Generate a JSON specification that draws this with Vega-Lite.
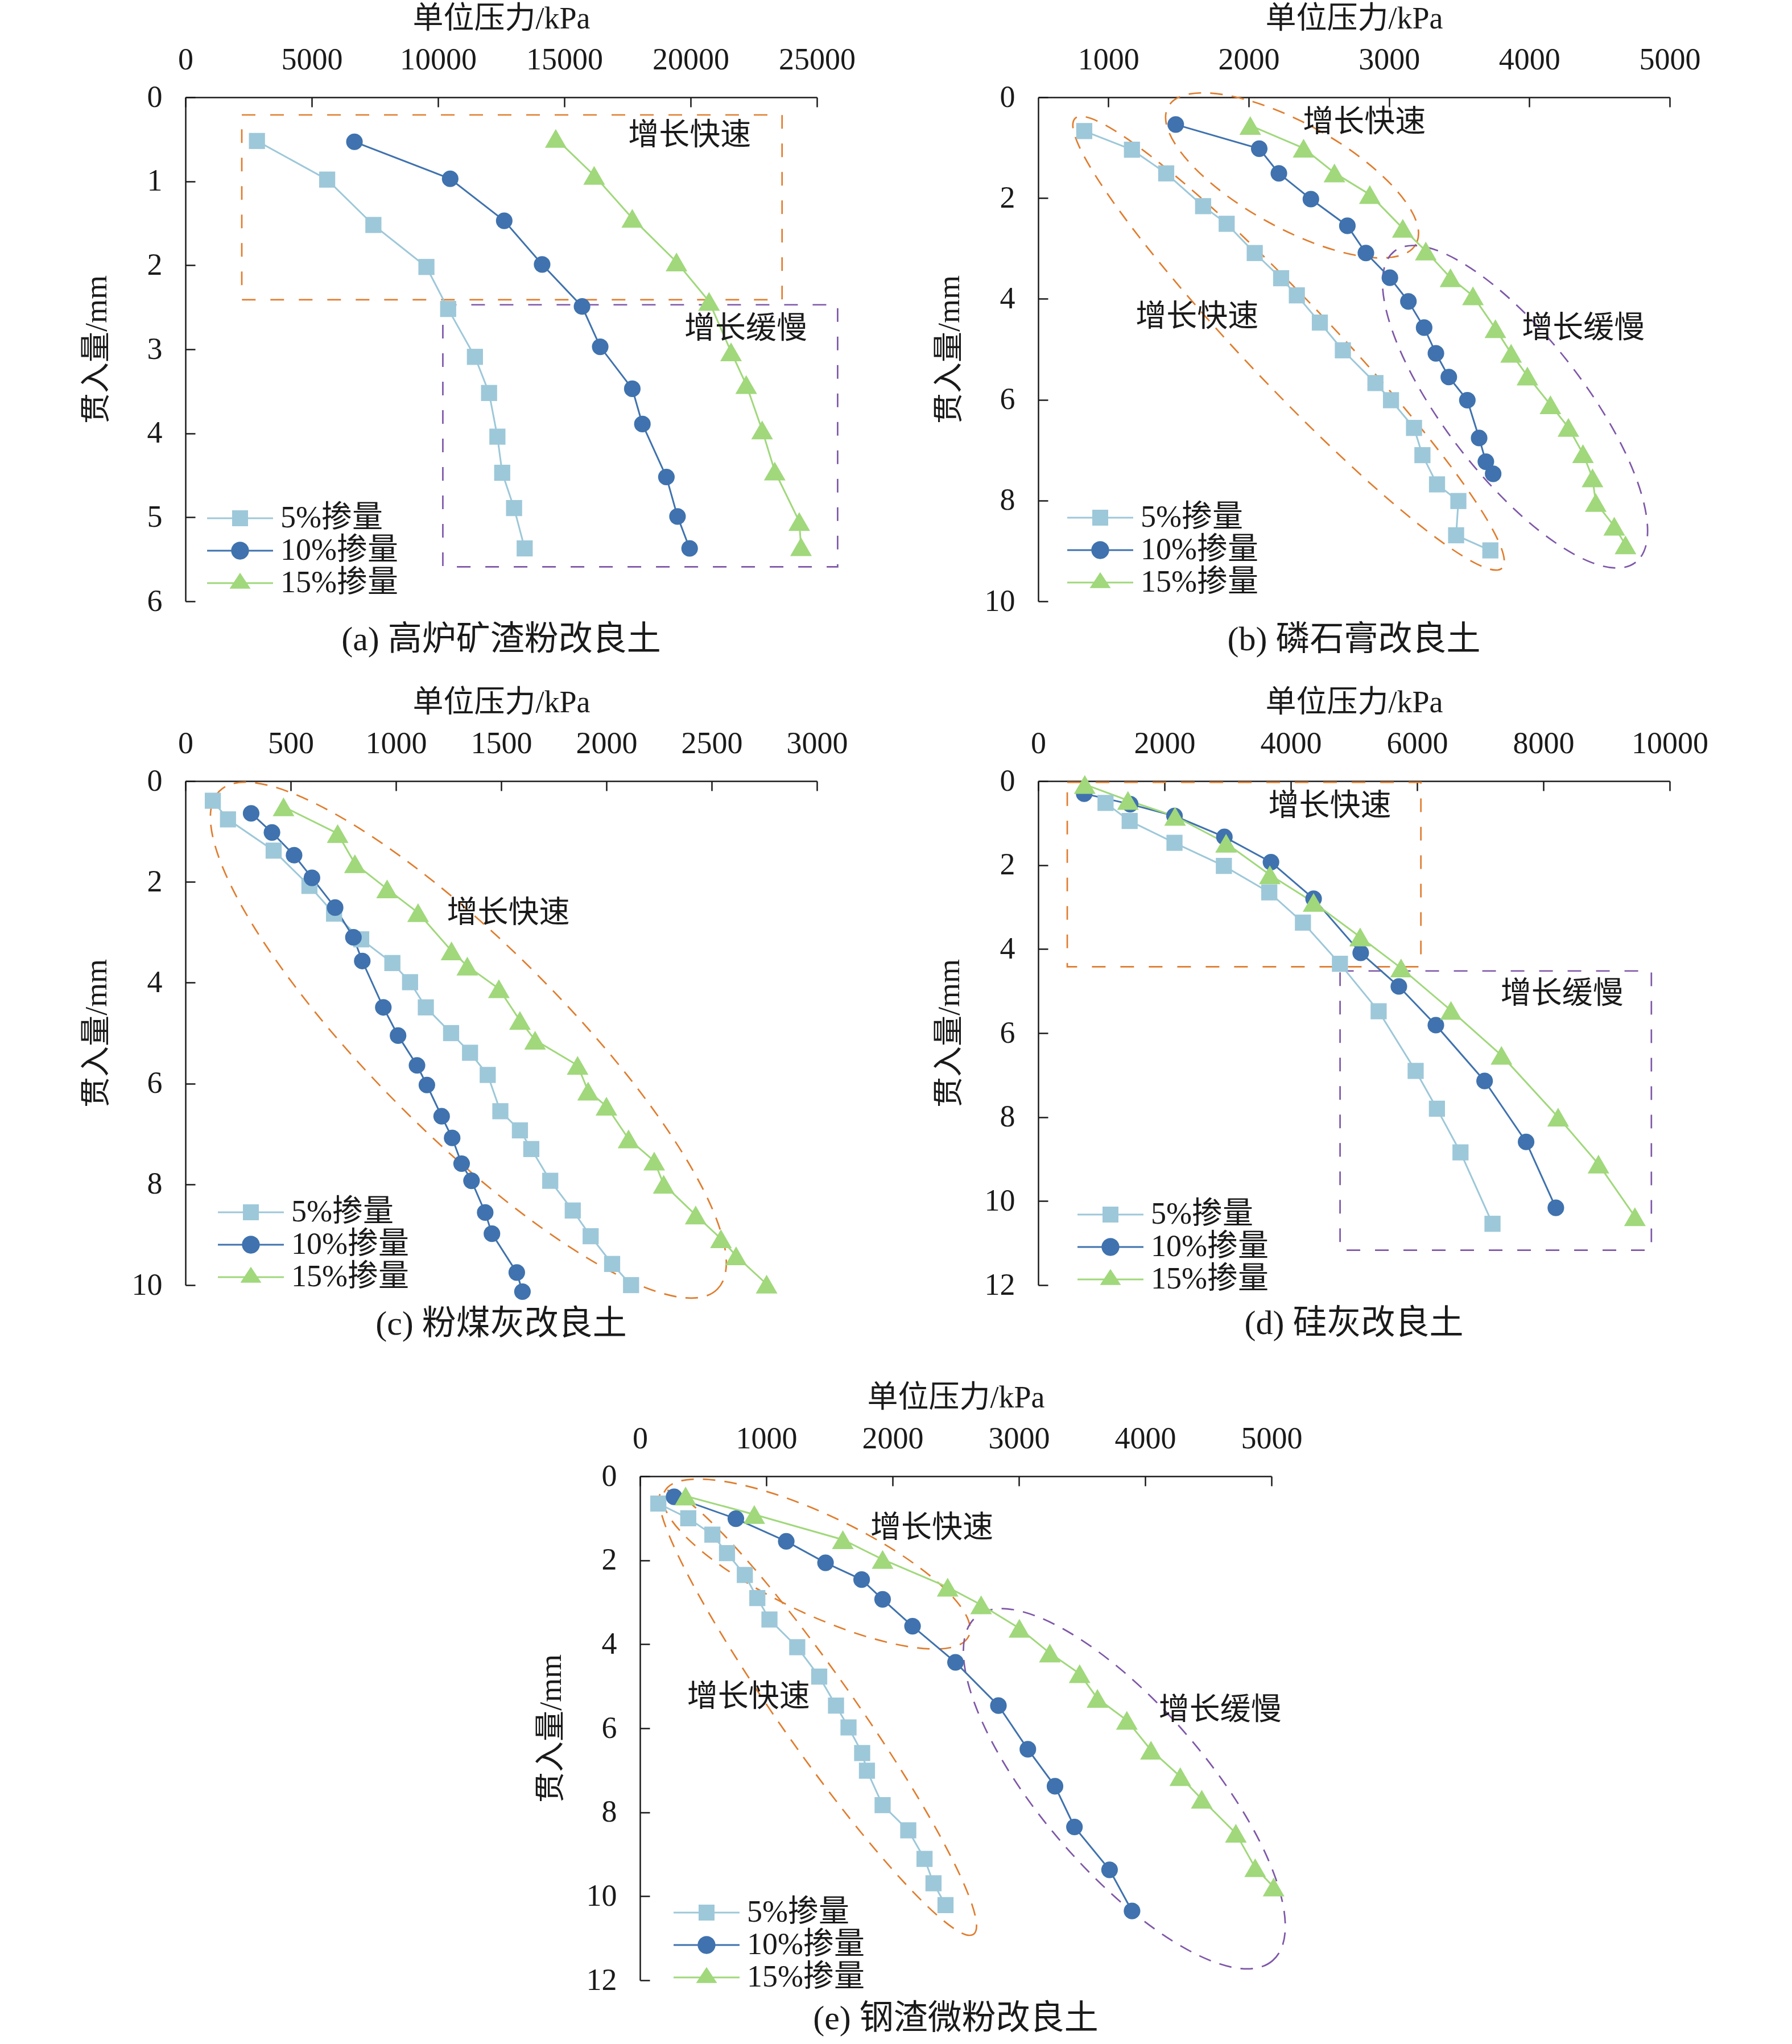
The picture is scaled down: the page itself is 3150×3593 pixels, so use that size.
{
  "$schema": "https://vega.github.io/schema/vega-lite/v6.json",
  "background": "white",
  "padding": {"left": 143, "top": 6, "right": 10, "bottom": 10},
  "config": {
    "view": {"stroke": null},
    "axis": {
      "domainColor": "#1a1a1a", "domainWidth": 2.5, "tickColor": "#1a1a1a", "tickWidth": 2.5, "tickSize": -17,
      "grid": false, "labelFont": "Liberation Serif", "labelFontSize": 54, "labelColor": "#1a1a1a",
      "titleFont": "Liberation Serif, Noto Sans CJK SC", "titleFontSize": 54, "titleFontWeight": "normal", "titleColor": "#1a1a1a",
      "labelFlush": false, "labelOverlap": false, "labelBound": false
    },
    "axisX": {"labelPadding": 56, "titleX": 555, "titleY": -138, "titleBaseline": "middle", "titleAngle": 0},
    "axisY": {"labelPadding": 58, "titleX": -156, "titleY": 443, "titleBaseline": "middle", "titleAngle": -90},
    "legend": {
      "orient": "none", "title": null, "padding": 0, "rowPadding": 3, "labelOffset": 44, "labelLimit": 600,
      "labelFont": "Liberation Serif, Noto Sans CJK SC", "labelFontSize": 54, "labelColor": "#1a1a1a",
      "symbolSize": 784, "symbolStrokeWidth": 0, "symbolOpacity": 1
    },
    "title": {"font": "Liberation Serif, Noto Sans CJK SC", "fontSize": 60, "fontWeight": "normal", "orient": "bottom", "anchor": "middle", "frame": "group", "offset": 12, "color": "#1a1a1a"},
    "text": {"font": "Liberation Serif, Noto Sans CJK SC", "fontSize": 54, "color": "#1a1a1a", "align": "center", "baseline": "middle"}
  },
  "datasets": {
    "a": [
      {"s": "5%掺量", "p": 2830, "d": 0.52}, {"s": "5%掺量", "p": 5610, "d": 0.98}, {"s": "5%掺量", "p": 7440, "d": 1.52}, {"s": "5%掺量", "p": 9540, "d": 2.02}, {"s": "5%掺量", "p": 10400, "d": 2.52}, {"s": "5%掺量", "p": 11460, "d": 3.09}, {"s": "5%掺量", "p": 12020, "d": 3.52}, {"s": "5%掺量", "p": 12350, "d": 4.04}, {"s": "5%掺量", "p": 12540, "d": 4.47}, {"s": "5%掺量", "p": 13010, "d": 4.89}, {"s": "5%掺量", "p": 13430, "d": 5.37},
      {"s": "10%掺量", "p": 6690, "d": 0.53}, {"s": "10%掺量", "p": 10480, "d": 0.97}, {"s": "10%掺量", "p": 12620, "d": 1.47}, {"s": "10%掺量", "p": 14120, "d": 1.99}, {"s": "10%掺量", "p": 15700, "d": 2.49}, {"s": "10%掺量", "p": 16420, "d": 2.97}, {"s": "10%掺量", "p": 17690, "d": 3.47}, {"s": "10%掺量", "p": 18090, "d": 3.89}, {"s": "10%掺量", "p": 19040, "d": 4.52}, {"s": "10%掺量", "p": 19480, "d": 4.99}, {"s": "10%掺量", "p": 19960, "d": 5.37},
      {"s": "15%掺量", "p": 14660, "d": 0.49}, {"s": "15%掺量", "p": 16180, "d": 0.93}, {"s": "15%掺量", "p": 17690, "d": 1.44}, {"s": "15%掺量", "p": 19440, "d": 1.96}, {"s": "15%掺量", "p": 20730, "d": 2.43}, {"s": "15%掺量", "p": 21600, "d": 3.03}, {"s": "15%掺量", "p": 22200, "d": 3.42}, {"s": "15%掺量", "p": 22830, "d": 3.96}, {"s": "15%掺量", "p": 23330, "d": 4.45}, {"s": "15%掺量", "p": 24300, "d": 5.05}, {"s": "15%掺量", "p": 24370, "d": 5.35}
    ],
    "b": [
      {"s": "5%掺量", "p": 828, "d": 0.67}, {"s": "5%掺量", "p": 1168, "d": 1.04}, {"s": "5%掺量", "p": 1412, "d": 1.51}, {"s": "5%掺量", "p": 1675, "d": 2.16}, {"s": "5%掺量", "p": 1843, "d": 2.51}, {"s": "5%掺量", "p": 2043, "d": 3.09}, {"s": "5%掺量", "p": 2231, "d": 3.59}, {"s": "5%掺量", "p": 2343, "d": 3.93}, {"s": "5%掺量", "p": 2507, "d": 4.47}, {"s": "5%掺量", "p": 2671, "d": 5.02}, {"s": "5%掺量", "p": 2903, "d": 5.67}, {"s": "5%掺量", "p": 3014, "d": 6.01}, {"s": "5%掺量", "p": 3178, "d": 6.56}, {"s": "5%掺量", "p": 3238, "d": 7.1}, {"s": "5%掺量", "p": 3342, "d": 7.68}, {"s": "5%掺量", "p": 3494, "d": 8.01}, {"s": "5%掺量", "p": 3478, "d": 8.69}, {"s": "5%掺量", "p": 3722, "d": 8.99},
      {"s": "10%掺量", "p": 1480, "d": 0.54}, {"s": "10%掺量", "p": 2075, "d": 1.02}, {"s": "10%掺量", "p": 2215, "d": 1.51}, {"s": "10%掺量", "p": 2443, "d": 2.02}, {"s": "10%掺量", "p": 2703, "d": 2.55}, {"s": "10%掺量", "p": 2835, "d": 3.09}, {"s": "10%掺量", "p": 3006, "d": 3.58}, {"s": "10%掺量", "p": 3138, "d": 4.05}, {"s": "10%掺量", "p": 3250, "d": 4.57}, {"s": "10%掺量", "p": 3334, "d": 5.08}, {"s": "10%掺量", "p": 3426, "d": 5.55}, {"s": "10%掺量", "p": 3558, "d": 6.01}, {"s": "10%掺量", "p": 3642, "d": 6.76}, {"s": "10%掺量", "p": 3690, "d": 7.23}, {"s": "10%掺量", "p": 3742, "d": 7.47},
      {"s": "15%掺量", "p": 2011, "d": 0.56}, {"s": "15%掺量", "p": 2391, "d": 1.01}, {"s": "15%掺量", "p": 2611, "d": 1.5}, {"s": "15%掺量", "p": 2863, "d": 1.93}, {"s": "15%掺量", "p": 3098, "d": 2.6}, {"s": "15%掺量", "p": 3262, "d": 3.05}, {"s": "15%掺量", "p": 3438, "d": 3.58}, {"s": "15%掺量", "p": 3598, "d": 3.94}, {"s": "15%掺量", "p": 3758, "d": 4.59}, {"s": "15%掺量", "p": 3870, "d": 5.08}, {"s": "15%掺量", "p": 3986, "d": 5.53}, {"s": "15%掺量", "p": 4150, "d": 6.1}, {"s": "15%掺量", "p": 4278, "d": 6.55}, {"s": "15%掺量", "p": 4382, "d": 7.07}, {"s": "15%掺量", "p": 4450, "d": 7.55}, {"s": "15%掺量", "p": 4473, "d": 8.04}, {"s": "15%掺量", "p": 4605, "d": 8.51}, {"s": "15%掺量", "p": 4685, "d": 8.88}
    ],
    "c": [
      {"s": "5%掺量", "p": 130, "d": 0.39}, {"s": "5%掺量", "p": 202, "d": 0.76}, {"s": "5%掺量", "p": 419, "d": 1.38}, {"s": "5%掺量", "p": 589, "d": 2.08}, {"s": "5%掺量", "p": 706, "d": 2.63}, {"s": "5%掺量", "p": 835, "d": 3.14}, {"s": "5%掺量", "p": 983, "d": 3.61}, {"s": "5%掺量", "p": 1067, "d": 3.99}, {"s": "5%掺量", "p": 1142, "d": 4.49}, {"s": "5%掺量", "p": 1262, "d": 5.0}, {"s": "5%掺量", "p": 1352, "d": 5.39}, {"s": "5%掺量", "p": 1436, "d": 5.83}, {"s": "5%掺量", "p": 1496, "d": 6.55}, {"s": "5%掺量", "p": 1589, "d": 6.93}, {"s": "5%掺量", "p": 1643, "d": 7.3}, {"s": "5%掺量", "p": 1733, "d": 7.93}, {"s": "5%掺量", "p": 1840, "d": 8.52}, {"s": "5%掺量", "p": 1925, "d": 9.03}, {"s": "5%掺量", "p": 2027, "d": 9.58}, {"s": "5%掺量", "p": 2117, "d": 10.0},
      {"s": "10%掺量", "p": 312, "d": 0.64}, {"s": "10%掺量", "p": 411, "d": 1.02}, {"s": "10%掺量", "p": 516, "d": 1.47}, {"s": "10%掺量", "p": 601, "d": 1.92}, {"s": "10%掺量", "p": 711, "d": 2.51}, {"s": "10%掺量", "p": 798, "d": 3.1}, {"s": "10%掺量", "p": 840, "d": 3.57}, {"s": "10%掺量", "p": 940, "d": 4.49}, {"s": "10%掺量", "p": 1010, "d": 5.05}, {"s": "10%掺量", "p": 1100, "d": 5.64}, {"s": "10%掺量", "p": 1147, "d": 6.03}, {"s": "10%掺量", "p": 1217, "d": 6.65}, {"s": "10%掺量", "p": 1267, "d": 7.08}, {"s": "10%掺量", "p": 1312, "d": 7.59}, {"s": "10%掺量", "p": 1359, "d": 7.93}, {"s": "10%掺量", "p": 1424, "d": 8.56}, {"s": "10%掺量", "p": 1456, "d": 8.98}, {"s": "10%掺量", "p": 1574, "d": 9.75}, {"s": "10%掺量", "p": 1601, "d": 10.13},
      {"s": "15%掺量", "p": 466, "d": 0.51}, {"s": "15%掺量", "p": 723, "d": 1.04}, {"s": "15%掺量", "p": 805, "d": 1.64}, {"s": "15%掺量", "p": 958, "d": 2.14}, {"s": "15%掺量", "p": 1105, "d": 2.61}, {"s": "15%掺量", "p": 1264, "d": 3.37}, {"s": "15%掺量", "p": 1339, "d": 3.67}, {"s": "15%掺量", "p": 1489, "d": 4.12}, {"s": "15%掺量", "p": 1589, "d": 4.75}, {"s": "15%掺量", "p": 1661, "d": 5.14}, {"s": "15%掺量", "p": 1863, "d": 5.64}, {"s": "15%掺量", "p": 1913, "d": 6.15}, {"s": "15%掺量", "p": 2000, "d": 6.45}, {"s": "15%掺量", "p": 2105, "d": 7.1}, {"s": "15%掺量", "p": 2227, "d": 7.54}, {"s": "15%掺量", "p": 2272, "d": 8.0}, {"s": "15%掺量", "p": 2424, "d": 8.61}, {"s": "15%掺量", "p": 2544, "d": 9.08}, {"s": "15%掺量", "p": 2616, "d": 9.42}, {"s": "15%掺量", "p": 2761, "d": 9.98}
    ],
    "d": [
      {"s": "5%掺量", "p": 1066, "d": 0.52}, {"s": "5%掺量", "p": 1448, "d": 0.95}, {"s": "5%掺量", "p": 2158, "d": 1.47}, {"s": "5%掺量", "p": 2940, "d": 2.02}, {"s": "5%掺量", "p": 3659, "d": 2.65}, {"s": "5%掺量", "p": 4192, "d": 3.37}, {"s": "5%掺量", "p": 4778, "d": 4.35}, {"s": "5%掺量", "p": 5391, "d": 5.48}, {"s": "5%掺量", "p": 5977, "d": 6.9}, {"s": "5%掺量", "p": 6314, "d": 7.8}, {"s": "5%掺量", "p": 6687, "d": 8.84}, {"s": "5%掺量", "p": 7194, "d": 10.54},
      {"s": "10%掺量", "p": 728, "d": 0.3}, {"s": "10%掺量", "p": 1456, "d": 0.55}, {"s": "10%掺量", "p": 2158, "d": 0.83}, {"s": "10%掺量", "p": 2948, "d": 1.33}, {"s": "10%掺量", "p": 3686, "d": 1.93}, {"s": "10%掺量", "p": 4361, "d": 2.8}, {"s": "10%掺量", "p": 5107, "d": 4.09}, {"s": "10%掺量", "p": 5711, "d": 4.89}, {"s": "10%掺量", "p": 6297, "d": 5.81}, {"s": "10%掺量", "p": 7069, "d": 7.14}, {"s": "10%掺量", "p": 7726, "d": 8.59}, {"s": "10%掺量", "p": 8197, "d": 10.16},
      {"s": "15%掺量", "p": 737, "d": 0.08}, {"s": "15%掺量", "p": 1421, "d": 0.46}, {"s": "15%掺量", "p": 2167, "d": 0.84}, {"s": "15%掺量", "p": 2975, "d": 1.48}, {"s": "15%掺量", "p": 3668, "d": 2.23}, {"s": "15%掺量", "p": 4361, "d": 2.89}, {"s": "15%掺量", "p": 5098, "d": 3.71}, {"s": "15%掺量", "p": 5746, "d": 4.45}, {"s": "15%掺量", "p": 6536, "d": 5.46}, {"s": "15%掺量", "p": 7336, "d": 6.53}, {"s": "15%掺量", "p": 8233, "d": 8.0}, {"s": "15%掺量", "p": 8872, "d": 9.12}, {"s": "15%掺量", "p": 9449, "d": 10.37}
    ],
    "e": [
      {"s": "5%掺量", "p": 145, "d": 0.65}, {"s": "5%掺量", "p": 382, "d": 1.0}, {"s": "5%掺量", "p": 573, "d": 1.39}, {"s": "5%掺量", "p": 689, "d": 1.83}, {"s": "5%掺量", "p": 830, "d": 2.35}, {"s": "5%掺量", "p": 929, "d": 2.9}, {"s": "5%掺量", "p": 1025, "d": 3.41}, {"s": "5%掺量", "p": 1245, "d": 4.07}, {"s": "5%掺量", "p": 1419, "d": 4.77}, {"s": "5%掺量", "p": 1552, "d": 5.46}, {"s": "5%掺量", "p": 1651, "d": 5.98}, {"s": "5%掺量", "p": 1759, "d": 6.59}, {"s": "5%掺量", "p": 1797, "d": 7.01}, {"s": "5%掺量", "p": 1921, "d": 7.83}, {"s": "5%掺量", "p": 2124, "d": 8.43}, {"s": "5%掺量", "p": 2253, "d": 9.11}, {"s": "5%掺量", "p": 2324, "d": 9.69}, {"s": "5%掺量", "p": 2419, "d": 10.21},
      {"s": "10%掺量", "p": 270, "d": 0.49}, {"s": "10%掺量", "p": 759, "d": 1.01}, {"s": "10%掺量", "p": 1158, "d": 1.55}, {"s": "10%掺量", "p": 1469, "d": 2.06}, {"s": "10%掺量", "p": 1755, "d": 2.46}, {"s": "10%掺量", "p": 1921, "d": 2.93}, {"s": "10%掺量", "p": 2158, "d": 3.57}, {"s": "10%掺量", "p": 2498, "d": 4.43}, {"s": "10%掺量", "p": 2838, "d": 5.46}, {"s": "10%掺量", "p": 3071, "d": 6.5}, {"s": "10%掺量", "p": 3286, "d": 7.38}, {"s": "10%掺量", "p": 3440, "d": 8.35}, {"s": "10%掺量", "p": 3718, "d": 9.37}, {"s": "10%掺量", "p": 3896, "d": 10.35},
      {"s": "15%掺量", "p": 361, "d": 0.47}, {"s": "15%掺量", "p": 905, "d": 0.91}, {"s": "15%掺量", "p": 1606, "d": 1.51}, {"s": "15%掺量", "p": 1921, "d": 1.98}, {"s": "15%掺量", "p": 2436, "d": 2.64}, {"s": "15%掺量", "p": 2701, "d": 3.06}, {"s": "15%掺量", "p": 3004, "d": 3.62}, {"s": "15%掺量", "p": 3245, "d": 4.21}, {"s": "15%掺量", "p": 3481, "d": 4.7}, {"s": "15%掺量", "p": 3622, "d": 5.29}, {"s": "15%掺量", "p": 3855, "d": 5.81}, {"s": "15%掺量", "p": 4046, "d": 6.52}, {"s": "15%掺量", "p": 4278, "d": 7.15}, {"s": "15%掺量", "p": 4448, "d": 7.69}, {"s": "15%掺量", "p": 4718, "d": 8.5}, {"s": "15%掺量", "p": 4871, "d": 9.32}, {"s": "15%掺量", "p": 5017, "d": 9.78}
    ]
  },
  "vconcat": [
    {
      "vconcat": [
        {
          "hconcat": [
            {
              "width": 1110, "height": 886,
              "title": {"text": "(a) 高炉矿渣粉改良土"},
              "encoding": {
                "x": {"field": "p", "type": "quantitative", "scale": {"domain": [0, 25000], "nice": false, "zero": false}, "axis": {"orient": "top", "values": [0, 5000, 10000, 15000, 20000, 25000], "format": "d", "title": "单位压力/kPa"}},
                "y": {"field": "d", "type": "quantitative", "scale": {"domain": [0, 6], "reverse": true, "nice": false}, "axis": {"values": [0, 1, 2, 3, 4, 5, 6], "format": "d", "title": "贯入量/mm"}}
              },
              "layer": [
                {
                  "data": {"values": [{"p": 2230, "p2": 23620, "d": 0.21, "d2": 2.41, "k": "fast"}, {"p": 10190, "p2": 25820, "d": 2.47, "d2": 5.59, "k": "slow"}]},
                  "mark": {"type": "rect", "filled": false, "strokeWidth": 2.7, "strokeDash": [24, 26]},
                  "encoding": {"x2": {"field": "p2"}, "y2": {"field": "d2"}, "stroke": {"field": "k", "type": "nominal", "scale": {"domain": ["5%掺量", "10%掺量", "15%掺量", "fast", "slow"], "range": ["#9DC8D9", "#3F72AE", "#A0D87B", "#E07D2E", "#7E57A8"]}, "legend": null}}
                },
                {
                  "data": {"name": "a"},
                  "mark": {"type": "line", "strokeWidth": 3},
                  "encoding": {"stroke": {"field": "s", "type": "nominal", "scale": {"domain": ["5%掺量", "10%掺量", "15%掺量", "fast", "slow"], "range": ["#9DC8D9", "#3F72AE", "#A0D87B", "#E07D2E", "#7E57A8"]}, "legend": null}, "order": {"field": "d", "type": "quantitative"}}
                },
                {"data": {"name": "a"}, "transform": [{"filter": "datum.s === '5%掺量'"}], "mark": {"type": "point", "shape": "square", "size": 800, "filled": true, "color": "#9DC8D9", "opacity": 1, "strokeWidth": 0}},
                {"data": {"name": "a"}, "transform": [{"filter": "datum.s === '10%掺量'"}], "mark": {"type": "point", "shape": "circle", "size": 850, "filled": true, "color": "#3F72AE", "opacity": 1, "strokeWidth": 0}},
                {"data": {"name": "a"}, "transform": [{"filter": "datum.s === '15%掺量'"}], "mark": {"type": "point", "shape": "triangle-up", "size": 1450, "filled": true, "color": "#A0D87B", "opacity": 1, "strokeWidth": 0}},
                {
                  "data": {"name": "a"}, "transform": [{"filter": "false"}],
                  "mark": {"type": "point", "filled": true, "opacity": 1, "strokeWidth": 0},
                  "encoding": {
                    "color": {"field": "s", "type": "nominal", "scale": {"domain": ["5%掺量", "10%掺量", "15%掺量"], "range": ["#9DC8D9", "#3F72AE", "#A0D87B"]}, "legend": {"legendX": 69, "legendY": 713}},
                    "shape": {"field": "s", "type": "nominal", "scale": {"domain": ["5%掺量", "10%掺量", "15%掺量"], "range": ["M-4.14,-0.11H4.14V0.11H-4.14ZM-1,-1H1V1H-1Z", "M-4.14,-0.11H4.14V0.11H-4.14ZM1.12,0C1.12,0.62 0.62,1.12 0,1.12C-0.62,1.12 -1.12,0.62 -1.12,0C-1.12,-0.62 -0.62,-1.12 0,-1.12C0.62,-1.12 1.12,-0.62 1.12,0Z", "M-4.14,-0.11H4.14V0.11H-4.14ZM0,-1.3L1.32,0.7H-1.32Z"]}, "legend": {"legendX": 69, "legendY": 713}}
                  }
                },
                {
                  "data": {"values": [{"p": 19958, "d": 0.46, "t": "增长快速"}, {"p": 22183, "d": 2.76, "t": "增长缓慢"}]},
                  "mark": {"type": "text"},
                  "encoding": {"text": {"field": "t"}}
                }
              ]
            },
            {
              "width": 1110, "height": 886,
              "title": {"text": "(b) 磷石膏改良土"},
              "encoding": {
                "x": {"field": "p", "type": "quantitative", "scale": {"domain": [500, 5000], "nice": false, "zero": false}, "axis": {"orient": "top", "values": [1000, 2000, 3000, 4000, 5000], "format": "d", "title": "单位压力/kPa"}},
                "y": {"field": "d", "type": "quantitative", "scale": {"domain": [0, 10], "reverse": true, "nice": false}, "axis": {"values": [0, 2, 4, 6, 8, 10], "format": "d", "title": "贯入量/mm"}}
              },
              "layer": [
                {
                  "data": {"values": [{"p": 2284, "d": 4.88}]},
                  "mark": {"type": "point", "shape": "M1,0C1,0.077 0.5523,0.1394 0,0.1394C-0.5523,0.1394 -1,0.077 -1,0C-1,-0.077 -0.5523,-0.1394 0,-0.1394C0.5523,-0.1394 1,-0.077 1,0Z", "size": 1188100, "angle": 46.5, "filled": false, "stroke": "#E07D2E", "strokeWidth": 2.7, "strokeDash": [22, 16], "opacity": 1}
                },
                {
                  "data": {"values": [{"p": 2309, "d": 1.55}]},
                  "mark": {"type": "point", "shape": "M1,0C1,0.2041 0.5523,0.3695 0,0.3695C-0.5523,0.3695 -1,0.2041 -1,0C-1,-0.2041 -0.5523,-0.3695 0,-0.3695C0.5523,-0.3695 1,-0.2041 1,0Z", "size": 248004, "angle": 29, "filled": false, "stroke": "#E07D2E", "strokeWidth": 2.7, "strokeDash": [22, 16], "opacity": 1}
                },
                {
                  "data": {"values": [{"p": 3898, "d": 6.14}]},
                  "mark": {"type": "point", "shape": "M1,0C1,0.1947 0.5523,0.3526 0,0.3526C-0.5523,0.3526 -1,0.1947 -1,0C-1,-0.1947 -0.5523,-0.3526 0,-0.3526C0.5523,-0.3526 1,-0.1947 1,0Z", "size": 478864, "angle": 52.2, "filled": false, "stroke": "#7E57A8", "strokeWidth": 2.7, "strokeDash": [22, 16], "opacity": 1}
                },
                {
                  "data": {"name": "b"},
                  "mark": {"type": "line", "strokeWidth": 3},
                  "encoding": {"stroke": {"field": "s", "type": "nominal", "scale": {"domain": ["5%掺量", "10%掺量", "15%掺量", "fast", "slow"], "range": ["#9DC8D9", "#3F72AE", "#A0D87B", "#E07D2E", "#7E57A8"]}, "legend": null}, "order": {"field": "d", "type": "quantitative"}}
                },
                {"data": {"name": "b"}, "transform": [{"filter": "datum.s === '5%掺量'"}], "mark": {"type": "point", "shape": "square", "size": 800, "filled": true, "color": "#9DC8D9", "opacity": 1, "strokeWidth": 0}},
                {"data": {"name": "b"}, "transform": [{"filter": "datum.s === '10%掺量'"}], "mark": {"type": "point", "shape": "circle", "size": 850, "filled": true, "color": "#3F72AE", "opacity": 1, "strokeWidth": 0}},
                {"data": {"name": "b"}, "transform": [{"filter": "datum.s === '15%掺量'"}], "mark": {"type": "point", "shape": "triangle-up", "size": 1450, "filled": true, "color": "#A0D87B", "opacity": 1, "strokeWidth": 0}},
                {
                  "data": {"name": "b"}, "transform": [{"filter": "false"}],
                  "mark": {"type": "point", "filled": true, "opacity": 1, "strokeWidth": 0},
                  "encoding": {
                    "color": {"field": "s", "type": "nominal", "scale": {"domain": ["5%掺量", "10%掺量", "15%掺量"], "range": ["#9DC8D9", "#3F72AE", "#A0D87B"]}, "legend": {"legendX": 82, "legendY": 712}},
                    "shape": {"field": "s", "type": "nominal", "scale": {"domain": ["5%掺量", "10%掺量", "15%掺量"], "range": ["M-4.14,-0.11H4.14V0.11H-4.14ZM-1,-1H1V1H-1Z", "M-4.14,-0.11H4.14V0.11H-4.14ZM1.12,0C1.12,0.62 0.62,1.12 0,1.12C-0.62,1.12 -1.12,0.62 -1.12,0C-1.12,-0.62 -0.62,-1.12 0,-1.12C0.62,-1.12 1.12,-0.62 1.12,0Z", "M-4.14,-0.11H4.14V0.11H-4.14ZM0,-1.3L1.32,0.7H-1.32Z"]}, "legend": {"legendX": 82, "legendY": 712}}
                  }
                },
                {
                  "data": {"values": [{"p": 2824, "d": 0.51, "t": "增长快速"}, {"p": 1632, "d": 4.37, "t": "增长快速"}, {"p": 4385, "d": 4.59, "t": "增长缓慢"}]},
                  "mark": {"type": "text"},
                  "encoding": {"text": {"field": "t"}}
                }
              ]
            }
          ],
          "spacing": 138,
          "resolve": {"scale": {"color": "independent", "shape": "independent", "size": "independent", "stroke": "independent"}}
        },
        {
          "hconcat": [
            {
              "width": 1110, "height": 886,
              "title": {"text": "(c) 粉煤灰改良土"},
              "encoding": {
                "x": {"field": "p", "type": "quantitative", "scale": {"domain": [0, 3000], "nice": false, "zero": false}, "axis": {"orient": "top", "values": [0, 500, 1000, 1500, 2000, 2500, 3000], "format": "d", "title": "单位压力/kPa"}},
                "y": {"field": "d", "type": "quantitative", "scale": {"domain": [0, 10], "reverse": true, "nice": false}, "axis": {"values": [0, 2, 4, 6, 8, 10], "format": "d", "title": "贯入量/mm"}}
              },
              "layer": [
                {
                  "data": {"values": [{"p": 1344, "d": 5.14}]},
                  "mark": {"type": "point", "shape": "M1,0C1,0.149 0.5523,0.2698 0,0.2698C-0.5523,0.2698 -1,0.149 -1,0C-1,-0.149 -0.5523,-0.2698 0,-0.2698C0.5523,-0.2698 1,-0.149 1,0Z", "size": 1532644, "angle": 45, "filled": false, "stroke": "#E07D2E", "strokeWidth": 2.7, "strokeDash": [22, 16], "opacity": 1}
                },
                {
                  "data": {"name": "c"},
                  "mark": {"type": "line", "strokeWidth": 3},
                  "encoding": {"stroke": {"field": "s", "type": "nominal", "scale": {"domain": ["5%掺量", "10%掺量", "15%掺量", "fast", "slow"], "range": ["#9DC8D9", "#3F72AE", "#A0D87B", "#E07D2E", "#7E57A8"]}, "legend": null}, "order": {"field": "d", "type": "quantitative"}}
                },
                {"data": {"name": "c"}, "transform": [{"filter": "datum.s === '5%掺量'"}], "mark": {"type": "point", "shape": "square", "size": 800, "filled": true, "color": "#9DC8D9", "opacity": 1, "strokeWidth": 0}},
                {"data": {"name": "c"}, "transform": [{"filter": "datum.s === '10%掺量'"}], "mark": {"type": "point", "shape": "circle", "size": 850, "filled": true, "color": "#3F72AE", "opacity": 1, "strokeWidth": 0}},
                {"data": {"name": "c"}, "transform": [{"filter": "datum.s === '15%掺量'"}], "mark": {"type": "point", "shape": "triangle-up", "size": 1450, "filled": true, "color": "#A0D87B", "opacity": 1, "strokeWidth": 0}},
                {
                  "data": {"name": "c"}, "transform": [{"filter": "false"}],
                  "mark": {"type": "point", "filled": true, "opacity": 1, "strokeWidth": 0},
                  "encoding": {
                    "color": {"field": "s", "type": "nominal", "scale": {"domain": ["5%掺量", "10%掺量", "15%掺量"], "range": ["#9DC8D9", "#3F72AE", "#A0D87B"]}, "legend": {"legendX": 88, "legendY": 731}},
                    "shape": {"field": "s", "type": "nominal", "scale": {"domain": ["5%掺量", "10%掺量", "15%掺量"], "range": ["M-4.14,-0.11H4.14V0.11H-4.14ZM-1,-1H1V1H-1Z", "M-4.14,-0.11H4.14V0.11H-4.14ZM1.12,0C1.12,0.62 0.62,1.12 0,1.12C-0.62,1.12 -1.12,0.62 -1.12,0C-1.12,-0.62 -0.62,-1.12 0,-1.12C0.62,-1.12 1.12,-0.62 1.12,0Z", "M-4.14,-0.11H4.14V0.11H-4.14ZM0,-1.3L1.32,0.7H-1.32Z"]}, "legend": {"legendX": 88, "legendY": 731}}
                  }
                },
                {
                  "data": {"values": [{"p": 1534, "d": 2.63, "t": "增长快速"}]},
                  "mark": {"type": "text"},
                  "encoding": {"text": {"field": "t"}}
                }
              ]
            },
            {
              "width": 1110, "height": 886,
              "title": {"text": "(d) 硅灰改良土"},
              "encoding": {
                "x": {"field": "p", "type": "quantitative", "scale": {"domain": [0, 10000], "nice": false, "zero": false}, "axis": {"orient": "top", "values": [0, 2000, 4000, 6000, 8000, 10000], "format": "d", "title": "单位压力/kPa"}},
                "y": {"field": "d", "type": "quantitative", "scale": {"domain": [0, 12], "reverse": true, "nice": false}, "axis": {"values": [0, 2, 4, 6, 8, 10, 12], "format": "d", "title": "贯入量/mm"}}
              },
              "layer": [
                {
                  "data": {"values": [{"p": 460, "p2": 6060, "d": 0.03, "d2": 4.42, "k": "fast"}, {"p": 4780, "p2": 9710, "d": 4.52, "d2": 11.17, "k": "slow"}]},
                  "mark": {"type": "rect", "filled": false, "strokeWidth": 2.7, "strokeDash": [24, 26]},
                  "encoding": {"x2": {"field": "p2"}, "y2": {"field": "d2"}, "stroke": {"field": "k", "type": "nominal", "scale": {"domain": ["5%掺量", "10%掺量", "15%掺量", "fast", "slow"], "range": ["#9DC8D9", "#3F72AE", "#A0D87B", "#E07D2E", "#7E57A8"]}, "legend": null}}
                },
                {
                  "data": {"name": "d"},
                  "mark": {"type": "line", "strokeWidth": 3},
                  "encoding": {"stroke": {"field": "s", "type": "nominal", "scale": {"domain": ["5%掺量", "10%掺量", "15%掺量", "fast", "slow"], "range": ["#9DC8D9", "#3F72AE", "#A0D87B", "#E07D2E", "#7E57A8"]}, "legend": null}, "order": {"field": "d", "type": "quantitative"}}
                },
                {"data": {"name": "d"}, "transform": [{"filter": "datum.s === '5%掺量'"}], "mark": {"type": "point", "shape": "square", "size": 800, "filled": true, "color": "#9DC8D9", "opacity": 1, "strokeWidth": 0}},
                {"data": {"name": "d"}, "transform": [{"filter": "datum.s === '10%掺量'"}], "mark": {"type": "point", "shape": "circle", "size": 850, "filled": true, "color": "#3F72AE", "opacity": 1, "strokeWidth": 0}},
                {"data": {"name": "d"}, "transform": [{"filter": "datum.s === '15%掺量'"}], "mark": {"type": "point", "shape": "triangle-up", "size": 1450, "filled": true, "color": "#A0D87B", "opacity": 1, "strokeWidth": 0}},
                {
                  "data": {"name": "d"}, "transform": [{"filter": "false"}],
                  "mark": {"type": "point", "filled": true, "opacity": 1, "strokeWidth": 0},
                  "encoding": {
                    "color": {"field": "s", "type": "nominal", "scale": {"domain": ["5%掺量", "10%掺量", "15%掺量"], "range": ["#9DC8D9", "#3F72AE", "#A0D87B"]}, "legend": {"legendX": 100, "legendY": 735}},
                    "shape": {"field": "s", "type": "nominal", "scale": {"domain": ["5%掺量", "10%掺量", "15%掺量"], "range": ["M-4.14,-0.11H4.14V0.11H-4.14ZM-1,-1H1V1H-1Z", "M-4.14,-0.11H4.14V0.11H-4.14ZM1.12,0C1.12,0.62 0.62,1.12 0,1.12C-0.62,1.12 -1.12,0.62 -1.12,0C-1.12,-0.62 -0.62,-1.12 0,-1.12C0.62,-1.12 1.12,-0.62 1.12,0Z", "M-4.14,-0.11H4.14V0.11H-4.14ZM0,-1.3L1.32,0.7H-1.32Z"]}, "legend": {"legendX": 100, "legendY": 735}}
                  }
                },
                {
                  "data": {"values": [{"p": 4618, "d": 0.61, "t": "增长快速"}, {"p": 8295, "d": 5.08, "t": "增长缓慢"}]},
                  "mark": {"type": "text"},
                  "encoding": {"text": {"field": "t"}}
                }
              ]
            }
          ],
          "spacing": 152,
          "resolve": {"scale": {"color": "independent", "shape": "independent", "size": "independent", "stroke": "independent"}}
        }
      ],
      "spacing": 53,
      "resolve": {"scale": {"color": "independent", "shape": "independent", "size": "independent", "stroke": "independent"}}
    },
    {
      "hconcat": [
        {
          "width": 616, "height": 10,
          "data": {"values": [{"t": " "}]},
          "mark": {"type": "text", "opacity": 0},
          "encoding": {"text": {"field": "t"}}
        },
        {
          "width": 1110, "height": 886,
          "title": {"text": "(e) 钢渣微粉改良土"},
          "encoding": {
            "x": {"field": "p", "type": "quantitative", "scale": {"domain": [0, 5000], "nice": false, "zero": false}, "axis": {"orient": "top", "values": [0, 1000, 2000, 3000, 4000, 5000], "format": "d", "title": "单位压力/kPa"}},
            "y": {"field": "d", "type": "quantitative", "scale": {"domain": [0, 12], "reverse": true, "nice": false}, "axis": {"values": [0, 2, 4, 6, 8, 10, 12], "format": "d", "title": "贯入量/mm"}}
          },
          "layer": [
            {
              "data": {"values": [{"p": 1398, "d": 2.09}]},
              "mark": {"type": "point", "shape": "M1,0C1,0.1623 0.5523,0.2939 0,0.2939C-0.5523,0.2939 -1,0.1623 -1,0C-1,-0.1623 -0.5523,-0.2939 0,-0.2939C0.5523,-0.2939 1,-0.1623 1,0Z", "size": 350464, "angle": 25.4, "filled": false, "stroke": "#E07D2E", "strokeWidth": 2.7, "strokeDash": [22, 16], "opacity": 1}
            },
            {
              "data": {"values": [{"p": 1408, "d": 5.63}]},
              "mark": {"type": "point", "shape": "M1,0C1,0.0766 0.5523,0.1387 0,0.1387C-0.5523,0.1387 -1,0.0766 -1,0C-1,-0.0766 -0.5523,-0.1387 0,-0.1387C0.5523,-0.1387 1,-0.0766 1,0Z", "size": 906304, "angle": 54.9, "filled": false, "stroke": "#E07D2E", "strokeWidth": 2.7, "strokeDash": [22, 16], "opacity": 1}
            },
            {
              "data": {"values": [{"p": 3835, "d": 7.44}]},
              "mark": {"type": "point", "shape": "M1,0C1,0.2007 0.5523,0.3634 0,0.3634C-0.5523,0.3634 -1,0.2007 -1,0C-1,-0.2007 -0.5523,-0.3634 0,-0.3634C0.5523,-0.3634 1,-0.2007 1,0Z", "size": 636804, "angle": 49.2, "filled": false, "stroke": "#7E57A8", "strokeWidth": 2.7, "strokeDash": [22, 16], "opacity": 1}
            },
            {
              "data": {"name": "e"},
              "mark": {"type": "line", "strokeWidth": 3},
              "encoding": {"stroke": {"field": "s", "type": "nominal", "scale": {"domain": ["5%掺量", "10%掺量", "15%掺量", "fast", "slow"], "range": ["#9DC8D9", "#3F72AE", "#A0D87B", "#E07D2E", "#7E57A8"]}, "legend": null}, "order": {"field": "d", "type": "quantitative"}}
            },
            {"data": {"name": "e"}, "transform": [{"filter": "datum.s === '5%掺量'"}], "mark": {"type": "point", "shape": "square", "size": 800, "filled": true, "color": "#9DC8D9", "opacity": 1, "strokeWidth": 0}},
            {"data": {"name": "e"}, "transform": [{"filter": "datum.s === '10%掺量'"}], "mark": {"type": "point", "shape": "circle", "size": 850, "filled": true, "color": "#3F72AE", "opacity": 1, "strokeWidth": 0}},
            {"data": {"name": "e"}, "transform": [{"filter": "datum.s === '15%掺量'"}], "mark": {"type": "point", "shape": "triangle-up", "size": 1450, "filled": true, "color": "#A0D87B", "opacity": 1, "strokeWidth": 0}},
            {
              "data": {"name": "e"}, "transform": [{"filter": "false"}],
              "mark": {"type": "point", "filled": true, "opacity": 1, "strokeWidth": 0},
              "encoding": {
                "color": {"field": "s", "type": "nominal", "scale": {"domain": ["5%掺量", "10%掺量", "15%掺量"], "range": ["#9DC8D9", "#3F72AE", "#A0D87B"]}, "legend": {"legendX": 90, "legendY": 740}},
                "shape": {"field": "s", "type": "nominal", "scale": {"domain": ["5%掺量", "10%掺量", "15%掺量"], "range": ["M-4.14,-0.11H4.14V0.11H-4.14ZM-1,-1H1V1H-1Z", "M-4.14,-0.11H4.14V0.11H-4.14ZM1.12,0C1.12,0.62 0.62,1.12 0,1.12C-0.62,1.12 -1.12,0.62 -1.12,0C-1.12,-0.62 -0.62,-1.12 0,-1.12C0.62,-1.12 1.12,-0.62 1.12,0Z", "M-4.14,-0.11H4.14V0.11H-4.14ZM0,-1.3L1.32,0.7H-1.32Z"]}, "legend": {"legendX": 90, "legendY": 740}}
              }
            },
            {
              "data": {"values": [{"p": 2311, "d": 1.25, "t": "增长快速"}, {"p": 859, "d": 5.27, "t": "增长快速"}, {"p": 4593, "d": 5.58, "t": "增长缓慢"}]},
              "mark": {"type": "text"},
              "encoding": {"text": {"field": "t"}}
            }
          ]
        }
      ],
      "spacing": 0,
      "resolve": {"scale": {"color": "independent", "shape": "independent", "size": "independent", "stroke": "independent"}}
    }
  ],
  "spacing": 71,
  "resolve": {"scale": {"color": "independent", "shape": "independent", "size": "independent", "stroke": "independent"}}
}
